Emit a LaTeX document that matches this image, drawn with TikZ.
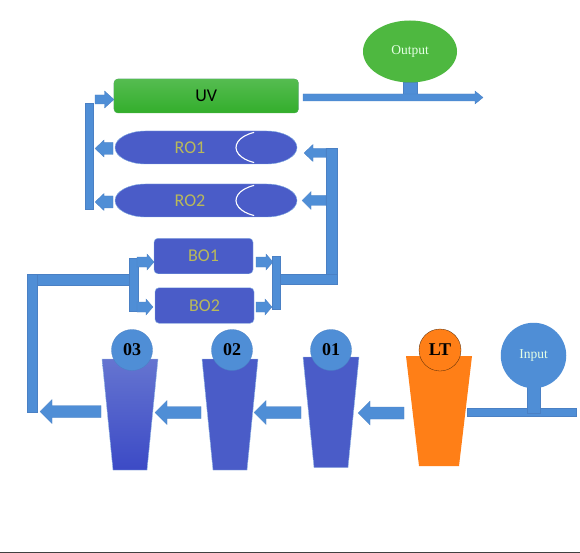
\documentclass[tikz,border=0pt]{standalone}
\usepackage{fontspec}
\setmainfont{Liberation Serif}
\newfontfamily\calibrifont{Carlito}
\usetikzlibrary{shapes.geometric}
\definecolor{pipeblue}{HTML}{4F8ED6}
\definecolor{pipeedge}{HTML}{4A80C4}
\definecolor{bodyblue}{HTML}{4A5CC8}
\definecolor{labelyellow}{HTML}{B9B95A}
\definecolor{uvtop}{HTML}{55BC50}
\definecolor{uvbot}{HTML}{33AE2C}
\definecolor{okgreen}{HTML}{4EB840}
\definecolor{ltorange}{HTML}{FF7F17}
\tikzset{
  pipe/.style={fill=pipeblue,draw=pipeedge,line width=0.3pt},
  unitbox/.style={fill=bodyblue,draw=pipeblue!70,line width=0.4pt,inner sep=0pt,font=\calibrifont\fontsize{18}{18}\selectfont,text=labelyellow},
  capbody/.style={fill=bodyblue,draw=pipeblue!70,line width=0.4pt},
  rolabel/.style={font=\calibrifont\fontsize{18}{18}\selectfont,text=labelyellow},
  caprim/.style={white,line width=1.1pt},
  boxunit/.style={unitbox,rounded corners=4pt,minimum width=99pt,minimum height=35.5pt},
  badge/.style={circle,fill=pipeblue,draw=pipeedge,line width=0.3pt,inner sep=0pt,minimum size=41pt,font=\bfseries\fontsize{18}{18}\selectfont,text=black},
  tank/.style={fill=bodyblue,draw=pipeblue!60,line width=0.4pt},
  ball/.style={fill=pipeblue,inner sep=0pt,text=white!90!green,font=\fontsize{13.5}{14}\selectfont},
}
% x-start, x-tip, y, shaft half, head half, head length
\newcommand{\blockarrow}[6]{%
  \pgfmathsetmacro{\neck}{#1<#2 ? #2-#6 : #2+#6}%
  \draw[pipe] (#1,#3-#4) -- (\neck,#3-#4) -- (\neck,#3-#5) -- (#2,#3) -- (\neck,#3+#5) -- (\neck,#3+#4) -- (#1,#3+#4) -- cycle;}
% membrane vessel, centred vertically at y
\newcommand{\vessel}[1]{%
  \draw[capbody] (145.5,#1-16.5) -- (266.5,#1-16.5) arc[start angle=270,end angle=450,x radius=30.5,y radius=16.5] -- (145.5,#1+16.5) arc[start angle=90,end angle=270,x radius=30.5,y radius=16.5] -- cycle;
  \draw[caprim] (254.1,#1-15.1) arc[start angle=246,end angle=114,x radius=30.5,y radius=16.5];}
\begin{document}
\begin{tikzpicture}[x=1pt,y=-1pt]
\useasboundingbox (0,0) rectangle (580,553);
\fill[white] (0,0) rectangle (580,553);
\fill[black!75] (0,551.6) rectangle (580,553);

% output
\draw[pipe] (403,82) rectangle (417,95);
\blockarrow{303}{483}{97.5}{3.5}{6.5}{8}
\node[ball,ellipse,fill=okgreen,minimum width=94pt,minimum height=62pt] (output) at (410,51.5) {Output};

% UV
\node[unitbox,top color=uvtop,bottom color=uvbot,draw=uvtop,rounded corners=4pt,minimum width=184.5pt,minimum height=34pt,text=black] (uv) at (206.2,96) {UV};

% RO
\vessel{147.5}
\vessel{200.5}
\node[rolabel] (ro1t) at (190,147.5) {RO1};
\node[rolabel] (ro2t) at (190,200.5) {RO2};

% left collector of RO
\draw[pipe] (85,103.5) rectangle (93,209);
\blockarrow{95}{114}{99.5}{4.5}{8.5}{9.5}
\blockarrow{113}{95}{148.5}{6}{8.5}{9}
\blockarrow{113}{95}{202}{6}{8.5}{9}

% right feed of RO
\draw[pipe] (326,148.5) rectangle (337,284);
\draw[pipe] (279,274.5) rectangle (337,284.5);
\blockarrow{326}{304}{153}{4.5}{8.5}{9}
\blockarrow{326}{302}{200.5}{5}{9}{9}

% BO
\node[boxunit] (bo1) at (203.5,256) {BO1};
\node[boxunit] (bo2) at (204.5,305.5) {BO2};
\draw[pipe] (272.5,256) rectangle (280,309);
\draw[pipe] (129,258) rectangle (138,311);
\draw[pipe] (37,274.5) rectangle (129,285);
\draw[pipe] (27,274.5) rectangle (37,412);
\blockarrow{256}{273}{262}{5}{8}{7}
\blockarrow{256}{272}{307}{5}{8}{7}
\blockarrow{137}{154}{262}{5}{8}{7}
\blockarrow{137}{153}{307}{5}{8}{7}

% bottom tanks
\shade[top color=bodyblue!85!white,bottom color=bodyblue!85!blue!95!black,draw=pipeblue!60,line width=0.4pt] (102,359) -- (158,359) -- (147,470) -- (113,470) -- cycle;
\draw[tank] (202,359) -- (258,359) -- (247,470) -- (213,470) -- cycle;
\draw[tank] (303,357) -- (359,357) -- (348,467.5) -- (314,467.5) -- cycle;
\fill[ltorange] (406,356) -- (472,356) -- (459,466) -- (419,466) -- cycle;

\node[badge] (t03) at (132,350) {03};
\node[badge] (t02) at (232,350) {02};
\node[badge] (t01) at (331,350) {01};
\node[badge,fill=ltorange,draw=black!70!ltorange,minimum size=42pt] (tlt) at (440,350) {LT};

\blockarrow{101}{40}{411.5}{6}{12}{12}
\blockarrow{201}{155}{412.5}{6}{12}{12}
\blockarrow{301}{254}{412.5}{6}{12}{12}
\blockarrow{404}{358}{413}{6}{12}{12}

% input
\draw[pipe] (467,408) rectangle (576,416);
\draw[pipe] (527.3,386) rectangle (540,413);
\node[ball,circle,minimum size=65.5pt] (input) at (533.5,355.5) {Input};
\end{tikzpicture}
\end{document}
